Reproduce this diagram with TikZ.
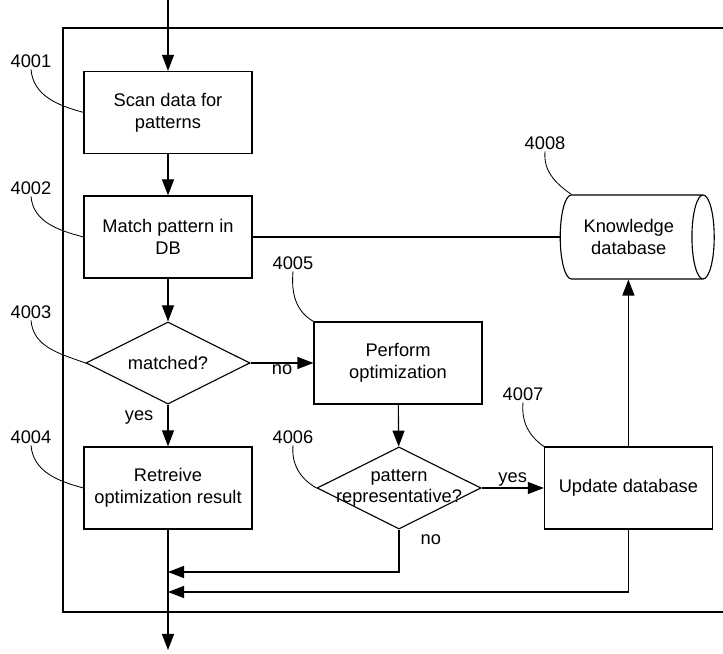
\documentclass[tikz,border=0pt]{standalone}
\usepackage{fontspec}
\setmainfont{Liberation Sans}
\usetikzlibrary{arrows.meta,shapes.geometric}

\tikzset{
  box/.style={draw, rectangle, align=center, minimum width=4.2cm, minimum height=2.05cm, inner sep=2pt},
  decision/.style={draw, diamond, inner sep=0pt, minimum width=4.1cm, minimum height=2.05cm},
  store/.style={draw, cylinder, shape aspect=0.5, align=center, minimum width=2.1cm, minimum height=3.85cm},
  refnum/.style={inner sep=1pt},
  leader/.style={line width=0.6pt},
  flowlabel/.style={inner sep=1pt}
}

\begin{document}
\begin{tikzpicture}[line width=0.8pt, >={Triangle[length=4mm,width=3mm]},
  font=\fontsize{13}{15.5}\selectfont]

  \useasboundingbox (0cm,0cm) rectangle (18.075cm,16.35cm);

  % frame
  \draw (18.075cm,15.65cm) -- (1.575cm,15.65cm) -- (1.575cm,1.05cm) -- (18.075cm,1.05cm);

  % flow
  \coordinate (cin)  at (4.2cm,16.35cm);
  \coordinate (cout) at (4.2cm,0.1cm);
  \coordinate (j1)   at (4.2cm,2.05cm);
  \coordinate (j2)   at (4.2cm,1.55cm);

  \draw (4.2cm,13.54cm)  node[box] (scan) {Scan data for\\patterns};
  \draw (4.2cm,10.425cm) node[box] (match) {Match pattern in\\DB};
  \draw (4.2cm,7.275cm)  node[decision, label={center:matched?}] (matched) {};
  \draw (4.2cm,4.15cm)   node[box] (retrieve) {Retreive\\optimization result};
  \draw (9.95cm,7.275cm) node[box] (perform) {Perform\\optimization};
  \draw (9.975cm,4.15cm) node[decision, label={[align=center]center:pattern\\representative?}] (repr) {};
  \draw (15.71cm,4.15cm) node[box] (update) {Update database};
  \draw (15.72cm,10.425cm) node[store] (kdb) {Knowledge\\database};

  \draw[->] (cin) -- (scan);
  \draw[->] (scan) -- (match);
  \draw     (match) -- (kdb);
  \draw[->] (match) -- (matched);
  \draw[->] (matched.east) -- node[flowlabel, below] {no} (perform.west);
  \draw[->] (matched.south) -- node[flowlabel, pos=0.32, left=9pt] {yes} (retrieve.north);
  \draw[->] (perform) -- (repr);
  \draw[->] (repr.east) -- node[flowlabel, above] {yes} (update.west);
  \draw[->] (update.north) -- (update.north |- kdb.south);
  \draw[->] (repr.south) |- node[flowlabel, pos=0.12, right=14pt] {no} (j1);
  \draw[->] (update.south) |- (j2);
  \draw[->] (retrieve) -- (cout);

  % reference numbers
  \draw (0.775cm,14.825cm) node[refnum] (l4001) {4001};
  \draw (0.775cm,11.65cm)  node[refnum] (l4002) {4002};
  \draw (0.775cm,8.55cm)   node[refnum] (l4003) {4003};
  \draw (0.775cm,5.425cm)  node[refnum] (l4004) {4004};
  \draw (7.325cm,9.775cm)  node[refnum] (l4005) {4005};
  \draw (7.325cm,5.425cm)  node[refnum] (l4006) {4006};
  \draw (13.075cm,6.5cm)   node[refnum] (l4007) {4007};
  \draw (13.625cm,12.775cm) node[refnum] (l4008) {4008};

  \draw[leader] (l4001.south) to[out=-85, in=165] (scan.west);
  \draw[leader] (l4002.south) to[out=-85, in=165] (match.west);
  \draw[leader] (l4003.south) to[out=-85, in=160] (matched.west);
  \draw[leader] (l4004.south) to[out=-85, in=165] (retrieve.west);
  \draw[leader] (l4005.south) to[out=-95, in=150] (perform.north west);
  \draw[leader] (l4006.south) to[out=-95, in=150] (repr.west);
  \draw[leader] (l4007.south) to[out=-95, in=145] (update.north west);
  \draw[leader] (l4008.south) to[out=-95, in=145] (kdb.after bottom);

\end{tikzpicture}
\end{document}
